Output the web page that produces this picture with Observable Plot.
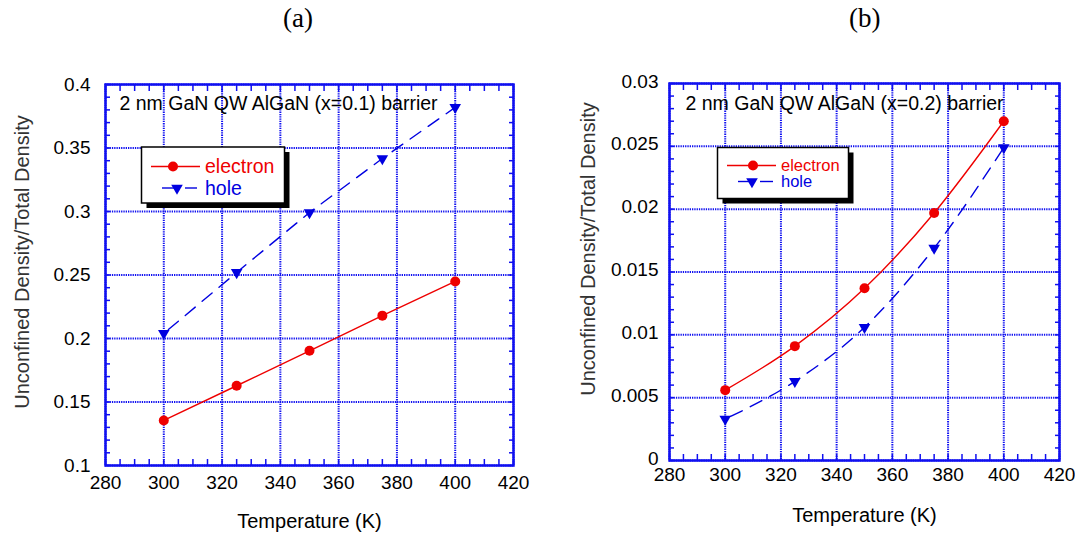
<!DOCTYPE html>
<html>
<head>
<meta charset="utf-8">
<script src="https://cdn.jsdelivr.net/npm/d3@7"></script>
<script src="https://cdn.jsdelivr.net/npm/@observablehq/plot@0.6"></script>
<style>
  body { margin: 0; background: white; }
  #wrap { position: relative; width: 1075px; height: 533px; overflow: hidden; background: white; }
  .pan { position: absolute; top: 0; z-index: 1; }
  .ttl { position: absolute; top: 3px; z-index: 5; font-family: "Liberation Serif", "Times New Roman", serif; font-size: 27px; color: #000; }
  svg { overflow: visible; }
</style>
</head>
<body>
<div id="wrap">
  <div class="pan" id="pa" style="left:0px"></div>
  <div class="pan" id="pb" style="left:545px"></div>
  <div class="ttl" style="left:283px">(a)</div>
  <div class="ttl" style="left:849px">(b)</div>
</div>
<script>
// ---- data ----
const temps = [300, 325, 350, 375, 400];
const electronA = [0.1355, 0.1628, 0.1903, 0.218, 0.2449];
const holeA = [0.204, 0.252, 0.2992, 0.3417, 0.382];
const electronB = [0.0056, 0.0091, 0.0137, 0.0197, 0.0270];
const holeB = [0.0033, 0.0063, 0.0106, 0.0169, 0.0249];

const xTicks = [280, 300, 320, 340, 360, 380, 400, 420];
const xMinor = d3.range(280, 421, 5);
const yTicksA = [0.1, 0.15, 0.2, 0.25, 0.3, 0.35, 0.4];
const yTickLabelsA = ["0.1", "0.15", "0.2", "0.25", "0.3", "0.35", "0.4"];
const yMinorA = d3.range(10, 41, 1).map(v => v / 100);
const yTicksB = [0, 0.005, 0.01, 0.015, 0.02, 0.025, 0.03];
const yTickLabelsB = ["0", "0.005", "0.01", "0.015", "0.02", "0.025", "0.03"];
const yMinorB = d3.range(0, 31, 1).map(v => v / 1000);

const seriesNames = ["electron", "hole"];
const panelTitles = ["2 nm GaN QW AlGaN (x=0.1) barrier", "2 nm GaN QW AlGaN (x=0.2) barrier"];
const xLabel = "Temperature (K)";
const yLabel = "Unconfined Density/Total Density";

const BLUE = "#1010f0";
const RED = "#ee0000";
const HBLUE = "#0000e0";

function rows(ys) { return temps.map((t, i) => ({t, v: ys[i]})); }

function panel(cfg) {
  const e = rows(cfg.electron), h = rows(cfg.hole);
  const fmt = d => cfg.yLabels[cfg.yTicks.indexOf(d)];
  const svg = Plot.plot({
    width: cfg.width, height: 533,
    marginLeft: cfg.ml, marginRight: cfg.mr, marginTop: cfg.mt, marginBottom: cfg.mb,
    x: {domain: [280, 420]},
    y: {domain: cfg.yDomain},
    style: {fontFamily: "'Liberation Sans', Arial, sans-serif", fontSize: "19px", color: "#000", background: "transparent", overflow: "visible"},
    marks: [
      Plot.gridX(xTicks, {stroke: BLUE, strokeOpacity: 1, strokeWidth: 2, strokeDasharray: "1.3,1"}),
      Plot.gridY(cfg.yTicks, {stroke: BLUE, strokeOpacity: 1, strokeWidth: 2, strokeDasharray: "1.3,1"}),
      Plot.axisX(xMinor, {anchor: "bottom", tickSize: -6, tickFormat: () => "", stroke: BLUE, strokeWidth: 1.5, label: null}),
      Plot.axisX(xMinor, {anchor: "top", tickSize: -6, tickFormat: () => "", stroke: BLUE, strokeWidth: 1.5, label: null}),
      Plot.axisY(cfg.yMinor, {anchor: "left", tickSize: -5, tickFormat: () => "", stroke: BLUE, strokeWidth: 1.5, label: null}),
      Plot.axisY(cfg.yMinor, {anchor: "right", tickSize: -5, tickFormat: () => "", stroke: BLUE, strokeWidth: 1.5, label: null}),
      Plot.axisX(xTicks, {anchor: "bottom", tickSize: 0, tickPadding: cfg.xPad, tickFormat: d => String(d), label: null, fontSize: 19}),
      Plot.axisY(cfg.yTicks, {anchor: "left", tickSize: 0, tickPadding: cfg.yPad, tickFormat: fmt, label: null, fontSize: 19, dy: cfg.ydy}),
      Plot.frame({stroke: BLUE, strokeWidth: 2.5}),
      Plot.line(e, {x: "t", y: "v", stroke: RED, strokeWidth: 1.4, curve: cfg.curve}),
      Plot.line(h, {x: "t", y: "v", stroke: HBLUE, strokeWidth: 1.4, strokeDasharray: "13,9", strokeDashoffset: -6, curve: cfg.curve}),
      Plot.dot(e, {x: "t", y: "v", r: 5, fill: RED, stroke: "none"}),
      Plot.dot(h, {x: "t", y: "v", r: 4.3, symbol: "triangle", rotate: 180, fill: HBLUE, stroke: "none"}),
      Plot.text([cfg.title], {frameAnchor: "top-left", dx: cfg.tdx, dy: cfg.tdy, textAnchor: "start", lineAnchor: "middle", fontSize: 19.5, fill: "#000"}),
      Plot.text([yLabel], {frameAnchor: "left", dx: cfg.ylx, dy: cfg.yly, rotate: -90, textAnchor: "middle", lineAnchor: "middle", fontSize: 20, fill: "#333"}),
      Plot.text([xLabel], {frameAnchor: "bottom", dy: cfg.xly, textAnchor: "middle", lineAnchor: "middle", fontSize: 20, fill: "#000"})
    ]
  });
  // legend box
  const L = cfg.legend;
  const g = d3.select(svg).append("g").attr("text-anchor", "start");
  g.append("rect").attr("x", L.x + 5).attr("y", L.y + 5).attr("width", L.w).attr("height", L.h).attr("fill", "#000");
  g.append("rect").attr("x", L.x).attr("y", L.y).attr("width", L.w).attr("height", L.h).attr("fill", "#fff").attr("stroke", "#000").attr("stroke-width", 1.5);
  // electron row
  g.append("line").attr("x1", L.ex1).attr("x2", L.ex2).attr("y1", L.ey).attr("y2", L.ey).attr("stroke", RED).attr("stroke-width", 1.4);
  g.append("circle").attr("cx", L.em).attr("cy", L.ey).attr("r", 5).attr("fill", RED);
  g.append("text").attr("x", L.tx).attr("y", L.ey).attr("dy", "0.35em").attr("fill", RED).attr("font-size", L.fs).text(seriesNames[0]);
  // hole row
  g.append("line").attr("x1", L.hx1).attr("x2", L.hm - 3).attr("y1", L.hy).attr("y2", L.hy).attr("stroke", HBLUE).attr("stroke-width", 1.4);
  g.append("line").attr("x1", L.hm + 8).attr("x2", L.hx2).attr("y1", L.hy).attr("y2", L.hy).attr("stroke", HBLUE).attr("stroke-width", 1.4);
  g.append("path").attr("d", d3.symbol(d3.symbolTriangle, 4.3 * 4.3 * Math.PI)()).attr("transform", `translate(${L.hm},${L.hy}) rotate(180)`).attr("fill", HBLUE);
  g.append("text").attr("x", L.tx).attr("y", L.hy).attr("dy", "0.35em").attr("fill", HBLUE).attr("font-size", L.fs).text(seriesNames[1]);
  return svg;
}

document.getElementById("pa").append(panel({
  width: 545, ml: 105, mr: 32, mt: 84, mb: 68,
  yDomain: [0.1, 0.4], yTicks: yTicksA, yLabels: yTickLabelsA, yMinor: yMinorA,
  electron: electronA, hole: holeA, curve: "linear",
  xPad: 10, yPad: 15, ydy: 0, title: panelTitles[0], tdx: 14, tdy: 19,
  ylx: -83, yly: -13, xly: 56,
  legend: {x: 141.5, y: 147, w: 143, h: 56, ex1: 151, ex2: 200, em: 173, ey: 166.5, hx1: 162, hx2: 197, hm: 177, hy: 188, tx: 205, fs: 19.5}
}));

document.getElementById("pb").append(panel({
  width: 530, ml: 124, mr: 16, mt: 83, mb: 73,
  yDomain: [0, 0.03], yTicks: yTicksB, yLabels: yTickLabelsB, yMinor: yMinorB,
  electron: electronB, hole: holeB, curve: "monotone-x",
  xPad: 7, yPad: 11, ydy: -2, title: panelTitles[1], tdx: 16, tdy: 20,
  ylx: -81, yly: -23, xly: 55,
  legend: {x: 172.5, y: 147.5, w: 131, h: 51, ex1: 182, ex2: 231, em: 208, ey: 165.5, hx1: 193, hx2: 228, hm: 207, hy: 181.5, tx: 236, fs: 16.5}
}));
</script>
</body>
</html>
